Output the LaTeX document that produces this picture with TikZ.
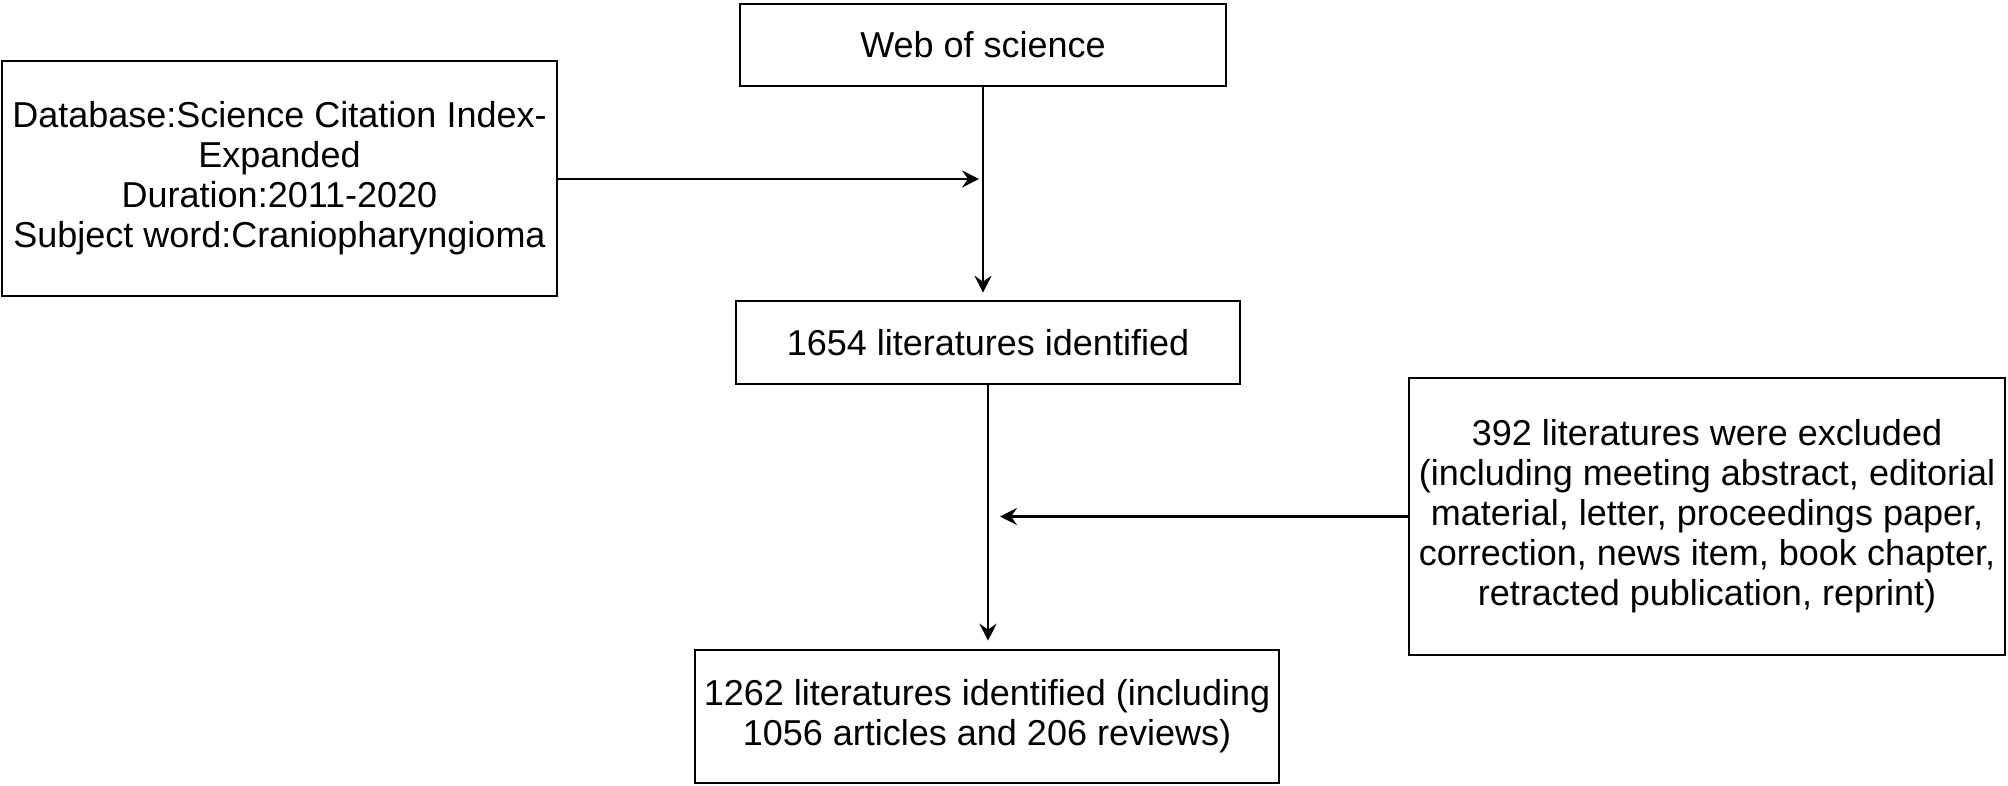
\documentclass[tikz,border=0pt]{standalone}
\usepackage{fontspec}
\setmainfont{Liberation Sans}
\usetikzlibrary{arrows.meta,calc}
\begin{document}
\begin{tikzpicture}[x=1pt,y=-1pt,
  every node/.style={font=\fontsize{36}{40}\selectfont},
  boxnode/.style={draw=black, line width=2.6pt, inner sep=0pt, align=center, fill=white},
  arr/.style={line width=2.4pt, -{Stealth[length=17pt,width=17pt,inset=6pt]}}]
\useasboundingbox[fill=white] (0,0) rectangle (2008,786);
\node[boxnode, minimum width=555pt, minimum height=235pt] (db) at (279.5,178.5)
  {Database:Science Citation Index-\\Expanded\\Duration:2011-2020\\Subject word:Craniopharyngioma};
\node[boxnode, minimum width=486pt, minimum height=82pt] (web) at (983,45) {Web of science};
\node[boxnode, minimum width=504pt, minimum height=83pt] (n1654) at (988,342.5) {1654 literatures identified};
\node[boxnode, minimum width=596pt, minimum height=277pt] (excl) at (1707,516.5)
  {392 literatures were excluded\\(including meeting abstract, editorial\\material, letter, proceedings paper,\\correction, news item, book chapter,\\retracted publication, reprint)};
\node[boxnode, minimum width=584pt, minimum height=133pt] (n1262) at (987,716.5)
  {1262 literatures identified (including\\1056 articles and 206 reviews)};
\coordinate (j1) at (979,179);
\coordinate (j2) at (1000,516.5);
\draw[arr, shorten >=7pt] (web.south) -- (web.south |- n1654.north);
\draw[arr] (db.east |- j1) -- (j1);
\draw[arr, shorten >=8pt] (n1654.south) -- (n1654.south |- n1262.north);
\draw[arr] (excl.west) -- (j2);
\end{tikzpicture}
\end{document}
